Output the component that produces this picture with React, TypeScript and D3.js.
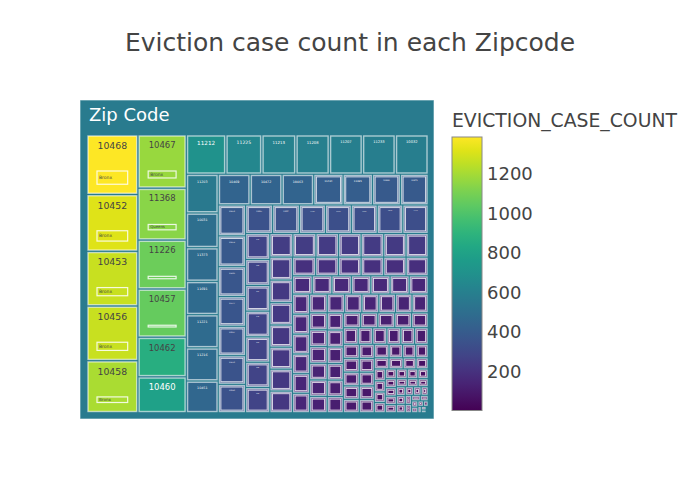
import { useEffect, useRef } from "react";
import * as d3 from "d3";

// zip codes, in the order plotly sorted them (largest first)
const zipCodes = [
  "10468", "10452", "10453", "10456", "10458",
  "10467", "11368", "11226", "10457", "10462", "10460",
  "11212", "11225", "11213", "11208", "11207", "11233", "10032",
  "11203", "10031", "11373", "11691", "11221", "11216", "10451",
  "10469", "10472", "10463", "11434", "11385", "10466", "10473",
  "10459", "10454", "11206", "11377", "10027", "11230", "10040",
  "11220", "11237", "11235", "10455", "11372", "10026", "11229",
  "11432", "11236", "10034", "11435", "10029", "11355", "11223",
  "10465", "11218", "11211", "11219", "11234", "10033", "11204",
  "11412", "11433", "11101", "11692", "11214", "10025", "10039",
  "11106", "11413", "10035", "11375", "11103", "11417",
  "10314", "11370", "10474", "10470", "11232", "11224", "11209",
  "11228", "11222", "11215", "11217", "11231", "11205",
  "11201", "11238", "10002", "10009", "10003", "10011", "10019",
  "10016", "10024", "10023", "10028", "10128", "10036",
  "10030", "10037", "10001", "10010", "10012", "10013",
  "10014", "10021", "10022", "10038", "10301", "10302",
  "10303", "10304", "10305", "10306", "10310", "10312",
  "11354", "11356", "11357", "11358", "11361",
  "11364", "11365", "11366", "11367", "11369",
  "11374", "11378", "11379", "11102", "11104",
  "11105", "11411", "11414", "11415", "11416", "11418",
  "11419", "11420", "11421", "11422", "11423",
  "11427", "11428", "11429", "11436", "11693",
  "11694", "10471", "10475", "10464",
  "11210", "11239", "11249", "10065", "10075", "10017", "10018", "10044",
  "10069", "10280", "10282", "10309", "10307", "10004", "10005", "10006",
];

const evictionCounts = [
  1388, 1320, 1270, 1270, 1210,
  1175, 1140, 1075, 1060, 870, 790,
  708, 645, 610, 600, 592, 590, 590,
  561, 503, 488, 482, 481, 480, 460,
  445, 445, 442, 410, 410, 390, 388,
  383, 382, 371, 369, 364, 356, 352,
  350, 348, 337, 336, 335, 331, 330,
  286, 286, 283, 283, 280, 278, 278,
  247, 247, 242, 242, 242, 239, 238,
  236, 232, 230, 228, 226, 225, 223,
  196, 194, 192, 191, 190, 188,
  164, 163, 162, 161, 160, 159, 158,
  156, 155, 154, 153, 152, 151,
  150, 148, 146, 144, 142, 140, 138,
  136, 135, 134, 133, 132, 131,
  126, 124, 122, 121, 120, 119,
  117, 116, 115, 114, 113, 112,
  109, 107, 105, 104, 103, 102,
  100, 99, 98, 97, 96,
  94, 93, 92, 91, 90,
  83, 80, 77, 74, 72,
  65, 62, 59, 56, 53, 51,
  49, 48, 47, 46, 45,
  43, 42, 41, 40, 39,
  37, 36, 35, 34,
  32, 30, 28, 26, 24, 22, 20, 18,
  16, 14, 12, 10, 8, 6, 4, 2,
];

const colorbarTicks = [200, 400, 600, 800, 1000, 1200];

const CMIN = 1;
const CMAX = 1388;
const FONT = '"DejaVu Sans", Verdana, sans-serif';

function boroughOf(zip: string) {
  if (zip.startsWith("104")) return "Bronx";
  if (zip.startsWith("103")) return "Staten Island";
  if (zip.startsWith("112")) return "Brooklyn";
  if (zip.startsWith("100") || zip.startsWith("101") || zip.startsWith("102")) return "Manhattan";
  return "Queens";
}

const isLight = (c: string) => {
  const r = d3.rgb(c);
  return (r.r * 299 + r.g * 587 + r.b * 114) / 1000 > 128;
};

export default function App() {
  const svgRef = useRef<SVGSVGElement>(null);

  useEffect(() => {
    if (!svgRef.current) return;
    const svg = d3.select(svgRef.current);
    svg.selectAll("*").remove();

    const color = d3.scaleSequential(d3.interpolateViridis).domain([CMIN, CMAX]);

    const n = Math.min(zipCodes.length, evictionCounts.length);
    const rows = d3.range(n).map((i) => ({ zip: zipCodes[i], value: evictionCounts[i] }));

    const total = d3.sum(rows, (d) => d.value);
    const rootValue = d3.sum(rows, (d) => d.value * d.value) / total;

    // title
    svg
      .append("text")
      .attr("x", 350)
      .attr("y", 51)
      .attr("text-anchor", "middle")
      .attr("font-family", FONT)
      .attr("font-size", 25)
      .attr("fill", "#444")
      .text("Eviction case count in each Zipcode");

    // root tile
    svg
      .append("rect")
      .attr("x", 80)
      .attr("y", 100)
      .attr("width", 354)
      .attr("height", 319)
      .attr("fill", color(rootValue))
      .attr("stroke", "rgba(255,255,255,0.6)")
      .attr("stroke-width", 1);

    svg
      .append("text")
      .attr("x", 89)
      .attr("y", 121)
      .attr("font-family", FONT)
      .attr("font-size", 18)
      .attr("fill", "#fff")
      .text("Zip Code");

    const area = { x: 88, y: 136, w: 339, h: 275.5 };
    const root = d3
      .hierarchy<any>({ children: rows })
      .sum((d: any) => d.value || 0)
      .sort((a, b) => (b.value || 0) - (a.value || 0));

    d3
      .treemap<any>()
      .tile(d3.treemapSquarify.ratio(1))
      .size([area.w, area.h])
      .paddingInner(2.5)(root);

    const g = svg.append("g").attr("transform", `translate(${area.x},${area.y})`);

    const leaves = root.leaves() as d3.HierarchyRectangularNode<any>[];

    leaves.forEach((nd) => {
      const w = nd.x1 - nd.x0;
      const h = nd.y1 - nd.y0;
      const fill = color(nd.data.value);
      const txt = isLight(fill) ? "#444" : "#fff";
      const cell = g.append("g").attr("transform", `translate(${nd.x0},${nd.y0})`);

      cell
        .append("rect")
        .attr("width", w)
        .attr("height", h)
        .attr("fill", fill)
        .attr("stroke", "rgba(255,255,255,0.6)")
        .attr("stroke-width", 1.4);

      // borough leaf inside the zip tile
      if (w >= 40) {
        const bh = h - 44;
        if (bh > 0.5) {
          cell
            .append("rect")
            .attr("x", 9)
            .attr("y", 35)
            .attr("width", w - 18)
            .attr("height", bh)
            .attr("fill", fill)
            .attr("stroke", "rgba(255,255,255,0.85)")
            .attr("stroke-width", 1.2);
          if (bh > 4) {
            cell
              .append("text")
              .attr("x", 11)
              .attr("y", 35 + bh / 2)
              .attr("dy", "0.35em")
              .attr("font-family", FONT)
              .attr("font-size", Math.min(4.5, bh - 1.5))
              .attr("fill", txt)
              .text(boroughOf(nd.data.zip));
          }
        }
      } else if (w < 28) {
        cell
          .append("rect")
          .attr("x", 1.4)
          .attr("y", 1.4)
          .attr("width", Math.max(0, w - 2.8))
          .attr("height", Math.max(0, h - 2.8))
          .attr("fill", "none")
          .attr("stroke", "#fff")
          .attr("stroke-opacity", 0.85)
          .attr("stroke-width", 0.9);
      }

      const fs = Math.min(9.6, (w - 19) / 3.18);
      if (fs >= 0.8) {
        cell
          .append("text")
          .attr("x", w / 2)
          .attr("y", 4 + fs * 0.95)
          .attr("text-anchor", "middle")
          .attr("font-family", FONT)
          .attr("font-size", fs)
          .attr("fill", txt)
          .text(nd.data.zip);
      }
    });

    // colorbar
    const bar = { x: 452, y: 137, w: 30, h: 273.5 };
    const defs = svg.append("defs");
    const grad = defs
      .append("linearGradient")
      .attr("id", "viridis-bar")
      .attr("x1", 0)
      .attr("y1", 1)
      .attr("x2", 0)
      .attr("y2", 0);
    d3.range(0, 1.0001, 0.05).forEach((t) => {
      grad
        .append("stop")
        .attr("offset", t)
        .attr("stop-color", d3.interpolateViridis(t));
    });

    svg
      .append("text")
      .attr("x", 452)
      .attr("y", 127)
      .attr("font-family", FONT)
      .attr("font-size", 18.8)
      .attr("fill", "#444")
      .text("EVICTION_CASE_COUNT");

    svg
      .append("rect")
      .attr("x", bar.x)
      .attr("y", bar.y)
      .attr("width", bar.w)
      .attr("height", bar.h)
      .attr("fill", "url(#viridis-bar)")
      .attr("stroke", "#888")
      .attr("stroke-width", 1);

    const cy = d3.scaleLinear().domain([CMIN, CMAX]).range([bar.y + bar.h, bar.y]);
    svg
      .append("g")
      .selectAll("text")
      .data(colorbarTicks)
      .join("text")
      .attr("x", 487)
      .attr("y", (d) => cy(d))
      .attr("dy", "0.35em")
      .attr("font-family", FONT)
      .attr("font-size", 18)
      .attr("fill", "#444")
      .text((d) => String(d));
  }, []);

  return (
    <svg
      ref={svgRef}
      width={700}
      height={500}
      style={{ position: "absolute", left: 0, top: 0, background: "#fff" }}
    />
  );
}
